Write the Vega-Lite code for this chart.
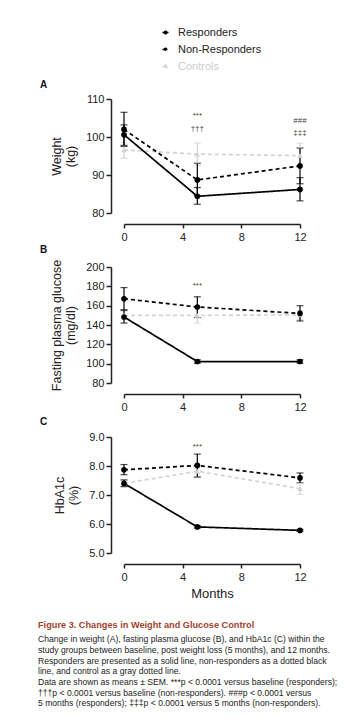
{
  "$schema": "https://vega.github.io/schema/vega-lite/v6.json",
  "padding": {"left": 38, "top": 27, "right": 5, "bottom": 5},
  "bounds": "flush",
  "spacing": 54,
  "config": {
    "font": "Liberation Sans",
    "view": {"stroke": null},
    "axis": {"domainColor": "#222", "tickColor": "#222", "labelColor": "#222", "titleColor": "#222", "grid": false, "domainWidth": 1.5, "tickWidth": 1.5, "labelFontSize": 11, "titleFontSize": 12.5, "titleFontWeight": "normal", "labelFont": "Liberation Sans", "titleFont": "Liberation Sans", "labelOverlap": false, "labelFlush": false},
    "legend": {"orient": "none", "legendX": 36, "legendY": -72, "title": null, "labelFontSize": 11, "labelColor": "#222", "rowPadding": 5, "symbolSize": 36, "symbolStrokeWidth": 1.5, "labelOffset": 7},
    "title": {"font": "Liberation Sans"}
  },
  "title": {
    "text": "Figure 3. Changes in Weight and Glucose Control",
    "subtitle": [
      "Change in weight (A), fasting plasma glucose (B), and HbA1c (C) within the",
      "study groups between baseline, post weight loss (5 months), and 12 months.",
      "Responders are presented as a solid line, non-responders as a dotted black",
      "line, and control as a gray dotted line.",
      "Data are shown as means ± SEM. ***p < 0.0001 versus baseline (responders);",
      "†††p < 0.0001 versus baseline (non-responders). ###p < 0.0001 versus",
      "5 months (responders); ‡‡‡p < 0.0001 versus 5 months (non-responders)."
    ],
    "orient": "bottom",
    "anchor": "start",
    "frame": "group",
    "dx": -86,
    "offset": 21,
    "fontSize": 9.2,
    "fontWeight": "bold",
    "color": "#a3432c",
    "subtitleFontSize": 8.6,
    "subtitleColor": "#222",
    "subtitlePadding": 5,
    "subtitleLineHeight": 10.7,
    "subtitleFont": "Liberation Sans"
  },
  "datasets": {
    "weight": [
      {"group": "Controls", "month": 0, "value": 96.6, "lo": 94.4, "hi": 98.5},
      {"group": "Controls", "month": 5, "value": 95.5, "lo": 92.5, "hi": 98.4},
      {"group": "Controls", "month": 12, "value": 95.1, "lo": 92.2, "hi": 98.4},
      {"group": "Non-Responders", "month": 0, "value": 102.0, "lo": 97.5, "hi": 106.5},
      {"group": "Non-Responders", "month": 5, "value": 88.7, "lo": 84.6, "hi": 93.1},
      {"group": "Non-Responders", "month": 12, "value": 92.4, "lo": 87.7, "hi": 97.1},
      {"group": "Responders", "month": 0, "value": 100.6, "lo": 97.8, "hi": 103.2},
      {"group": "Responders", "month": 5, "value": 84.4, "lo": 82.3, "hi": 86.7},
      {"group": "Responders", "month": 12, "value": 86.2, "lo": 83.2, "hi": 89.3}
    ],
    "glucose": [
      {"group": "Controls", "month": 0, "value": 150, "lo": 146, "hi": 154},
      {"group": "Controls", "month": 5, "value": 150, "lo": 142, "hi": 158},
      {"group": "Controls", "month": 12, "value": 150.5, "lo": 146, "hi": 155},
      {"group": "Non-Responders", "month": 0, "value": 167.2, "lo": 155.5, "hi": 178.7},
      {"group": "Non-Responders", "month": 5, "value": 158.6, "lo": 147.7, "hi": 169.2},
      {"group": "Non-Responders", "month": 12, "value": 152, "lo": 144.2, "hi": 160},
      {"group": "Responders", "month": 0, "value": 148.3, "lo": 142, "hi": 155.5},
      {"group": "Responders", "month": 5, "value": 102.2, "lo": 100.5, "hi": 104},
      {"group": "Responders", "month": 12, "value": 102.2, "lo": 100.5, "hi": 104}
    ],
    "hba1c": [
      {"group": "Controls", "month": 0, "value": 7.4, "lo": 7.28, "hi": 7.52},
      {"group": "Controls", "month": 5, "value": 7.82, "lo": 7.6, "hi": 8.02},
      {"group": "Controls", "month": 12, "value": 7.22, "lo": 7.02, "hi": 7.4},
      {"group": "Non-Responders", "month": 0, "value": 7.87, "lo": 7.7, "hi": 8.05},
      {"group": "Non-Responders", "month": 5, "value": 8.02, "lo": 7.62, "hi": 8.41},
      {"group": "Non-Responders", "month": 12, "value": 7.59, "lo": 7.42, "hi": 7.76},
      {"group": "Responders", "month": 0, "value": 7.4, "lo": 7.29, "hi": 7.52},
      {"group": "Responders", "month": 5, "value": 5.9, "lo": 5.86, "hi": 5.94},
      {"group": "Responders", "month": 12, "value": 5.78, "lo": 5.75, "hi": 5.81}
    ],
    "annA": [
      {"month": 5, "value": 105.4, "label": "***"},
      {"month": 5, "value": 102.0, "label": "†††"},
      {"month": 12, "value": 104.2, "label": "###"},
      {"month": 12, "value": 101.1, "label": "‡‡‡"}
    ],
    "annB": [
      {"month": 5, "value": 180, "label": "***"}
    ],
    "annC": [
      {"month": 5, "value": 8.66, "label": "***"}
    ]
  },
  "vconcat": [
    {
      "width": 176,
      "height": 114,
      "title": {"text": "A", "anchor": "start", "frame": "group", "dx": -84, "offset": 3, "fontSize": 10, "fontWeight": "bold", "color": "#111"},
      "layer": [
        {
          "data": {"name": "weight"},
          "mark": {"type": "errorbar", "ticks": {"size": 7}, "thickness": 1.2},
          "encoding": {
            "x": {"field": "month", "type": "quantitative", "scale": {"domain": [0, 12], "nice": false}, "axis": {"values": [0, 4, 8, 12], "offset": 11, "tickSize": 4, "title": null, "labelPadding": 3}},
            "y": {"field": "lo", "type": "quantitative", "scale": {"domain": [80, 110], "nice": false, "zero": false}, "axis": {"values": [80, 90, 100, 110], "offset": 13, "tickSize": 5, "title": ["Weight", "(kg)"], "titlePadding": 8}},
            "y2": {"field": "hi"},
            "color": {"field": "group", "type": "nominal", "scale": {"domain": ["Responders", "Non-Responders", "Controls"], "range": ["#000000", "#000000", "#d3d3d3"]}, "legend": {"symbolType": "M-1,0H1M-0.42,0A0.42,0.42,0,1,1,0.42,0A0.42,0.42,0,1,1,-0.42,0Z", "encode": {
              "labels": {"update": {"fill": {"signal": "datum.value === 'Controls' ? '#cccccc' : '#222222'"}}},
              "symbols": {"update": {
                "shape": {"signal": "datum.value === 'Controls' ? 'M-1,0H1M0,-0.5L0.45,0.3L-0.45,0.3Z' : 'M-1,0H1M-0.42,0A0.42,0.42,0,1,1,0.42,0A0.42,0.42,0,1,1,-0.42,0Z'"},
                "stroke": {"signal": "datum.value === 'Controls' ? '#d3d3d3' : '#000000'"},
                "fill": {"signal": "datum.value === 'Controls' ? '#d3d3d3' : '#000000'"},
                "strokeDash": {"signal": "datum.value === 'Responders' ? [1, 0] : [2.5, 2]"},
                "strokeWidth": {"value": 1.5},
                "opacity": {"value": 1}
              }}
            }}}
          }
        },
        {
          "data": {"name": "weight"},
          "mark": {"type": "line", "strokeWidth": 1.7},
          "encoding": {
            "x": {"field": "month", "type": "quantitative", "axis": {"values": [0, 4, 8, 12], "offset": 11, "tickSize": 4, "title": null, "labelPadding": 3}},
            "y": {"field": "value", "type": "quantitative", "axis": {"values": [80, 90, 100, 110], "offset": 13, "tickSize": 5, "title": ["Weight", "(kg)"], "titlePadding": 8}},
            "color": {"field": "group", "type": "nominal"},
            "strokeDash": {"field": "group", "type": "nominal", "scale": {"domain": ["Responders", "Non-Responders", "Controls"], "range": [[1, 0], [4, 3], [4, 3]]}, "legend": null}
          }
        },
        {
          "data": {"name": "weight"},
          "mark": {"type": "point", "filled": true, "size": 32, "opacity": 1},
          "encoding": {
            "x": {"field": "month", "type": "quantitative", "axis": {"values": [0, 4, 8, 12], "offset": 11, "tickSize": 4, "title": null, "labelPadding": 3}},
            "y": {"field": "value", "type": "quantitative", "axis": {"values": [80, 90, 100, 110], "offset": 13, "tickSize": 5, "title": ["Weight", "(kg)"], "titlePadding": 8}},
            "color": {"field": "group", "type": "nominal"},
            "shape": {"condition": {"test": "datum.group === 'Controls'", "value": "triangle-up"}, "value": "circle"}
          }
        },
        {
          "data": {"name": "annA"},
          "mark": {"type": "text", "fontSize": 8, "color": "#444"},
          "encoding": {
            "x": {"field": "month", "type": "quantitative", "axis": {"values": [0, 4, 8, 12], "offset": 11, "tickSize": 4, "title": null, "labelPadding": 3}},
            "y": {"field": "value", "type": "quantitative", "axis": {"values": [80, 90, 100, 110], "offset": 13, "tickSize": 5, "title": ["Weight", "(kg)"], "titlePadding": 8}},
            "text": {"field": "label"}
          }
        }
      ]
    },
    {
      "width": 176,
      "height": 116,
      "title": {"text": "B", "anchor": "start", "frame": "group", "dx": -84, "offset": 4, "fontSize": 10, "fontWeight": "bold", "color": "#111"},
      "layer": [
        {
          "data": {"name": "glucose"},
          "mark": {"type": "errorbar", "ticks": {"size": 7}, "thickness": 1.2},
          "encoding": {
            "x": {"field": "month", "type": "quantitative", "scale": {"domain": [0, 12], "nice": false}, "axis": {"values": [0, 4, 8, 12], "offset": 11, "tickSize": 4, "title": null, "labelPadding": 3}},
            "y": {"field": "lo", "type": "quantitative", "scale": {"domain": [80, 200], "nice": false, "zero": false}, "axis": {"values": [80, 100, 120, 140, 160, 180, 200], "offset": 13, "tickSize": 5, "title": ["Fasting plasma glucose", "(mg/dl)"], "titlePadding": 8}},
            "y2": {"field": "hi"},
            "color": {"field": "group", "type": "nominal"}
          }
        },
        {
          "data": {"name": "glucose"},
          "mark": {"type": "line", "strokeWidth": 1.7},
          "encoding": {
            "x": {"field": "month", "type": "quantitative", "axis": {"values": [0, 4, 8, 12], "offset": 11, "tickSize": 4, "title": null, "labelPadding": 3}},
            "y": {"field": "value", "type": "quantitative", "axis": {"values": [80, 100, 120, 140, 160, 180, 200], "offset": 13, "tickSize": 5, "title": ["Fasting plasma glucose", "(mg/dl)"], "titlePadding": 8}},
            "color": {"field": "group", "type": "nominal"},
            "strokeDash": {"field": "group", "type": "nominal", "legend": null}
          }
        },
        {
          "data": {"name": "glucose"},
          "mark": {"type": "point", "filled": true, "size": 32, "opacity": 1},
          "encoding": {
            "x": {"field": "month", "type": "quantitative", "axis": {"values": [0, 4, 8, 12], "offset": 11, "tickSize": 4, "title": null, "labelPadding": 3}},
            "y": {"field": "value", "type": "quantitative", "axis": {"values": [80, 100, 120, 140, 160, 180, 200], "offset": 13, "tickSize": 5, "title": ["Fasting plasma glucose", "(mg/dl)"], "titlePadding": 8}},
            "color": {"field": "group", "type": "nominal"},
            "shape": {"condition": {"test": "datum.group === 'Controls'", "value": "triangle-up"}, "value": "circle"}
          }
        },
        {
          "data": {"name": "annB"},
          "mark": {"type": "text", "fontSize": 8, "color": "#444"},
          "encoding": {
            "x": {"field": "month", "type": "quantitative", "axis": {"values": [0, 4, 8, 12], "offset": 11, "tickSize": 4, "title": null, "labelPadding": 3}},
            "y": {"field": "value", "type": "quantitative", "axis": {"values": [80, 100, 120, 140, 160, 180, 200], "offset": 13, "tickSize": 5, "title": ["Fasting plasma glucose", "(mg/dl)"], "titlePadding": 8}},
            "text": {"field": "label"}
          }
        }
      ]
    },
    {
      "width": 176,
      "height": 116,
      "title": {"text": "C", "anchor": "start", "frame": "group", "dx": -84, "offset": 4, "fontSize": 10, "fontWeight": "bold", "color": "#111"},
      "layer": [
        {
          "data": {"name": "hba1c"},
          "mark": {"type": "errorbar", "ticks": {"size": 7}, "thickness": 1.2},
          "encoding": {
            "x": {"field": "month", "type": "quantitative", "scale": {"domain": [0, 12], "nice": false}, "axis": {"values": [0, 4, 8, 12], "offset": 11, "tickSize": 4, "title": "Months", "titleFontSize": 13, "labelPadding": 3, "titlePadding": 5}},
            "y": {"field": "lo", "type": "quantitative", "scale": {"domain": [5, 9], "nice": false, "zero": false}, "axis": {"values": [5, 6, 7, 8, 9], "format": ".1f", "offset": 13, "tickSize": 5, "title": ["HbA1c", "(%)"], "titlePadding": 8}},
            "y2": {"field": "hi"},
            "color": {"field": "group", "type": "nominal"}
          }
        },
        {
          "data": {"name": "hba1c"},
          "mark": {"type": "line", "strokeWidth": 1.7},
          "encoding": {
            "x": {"field": "month", "type": "quantitative", "axis": {"values": [0, 4, 8, 12], "offset": 11, "tickSize": 4, "title": "Months", "titleFontSize": 13, "labelPadding": 3, "titlePadding": 5}},
            "y": {"field": "value", "type": "quantitative", "axis": {"values": [5, 6, 7, 8, 9], "format": ".1f", "offset": 13, "tickSize": 5, "title": ["HbA1c", "(%)"], "titlePadding": 8}},
            "color": {"field": "group", "type": "nominal"},
            "strokeDash": {"field": "group", "type": "nominal", "legend": null}
          }
        },
        {
          "data": {"name": "hba1c"},
          "mark": {"type": "point", "filled": true, "size": 32, "opacity": 1},
          "encoding": {
            "x": {"field": "month", "type": "quantitative", "axis": {"values": [0, 4, 8, 12], "offset": 11, "tickSize": 4, "title": "Months", "titleFontSize": 13, "labelPadding": 3, "titlePadding": 5}},
            "y": {"field": "value", "type": "quantitative", "axis": {"values": [5, 6, 7, 8, 9], "format": ".1f", "offset": 13, "tickSize": 5, "title": ["HbA1c", "(%)"], "titlePadding": 8}},
            "color": {"field": "group", "type": "nominal"},
            "shape": {"condition": {"test": "datum.group === 'Controls'", "value": "triangle-up"}, "value": "circle"}
          }
        },
        {
          "data": {"name": "annC"},
          "mark": {"type": "text", "fontSize": 8, "color": "#444"},
          "encoding": {
            "x": {"field": "month", "type": "quantitative", "axis": {"values": [0, 4, 8, 12], "offset": 11, "tickSize": 4, "title": "Months", "titleFontSize": 13, "labelPadding": 3, "titlePadding": 5}},
            "y": {"field": "value", "type": "quantitative", "axis": {"values": [5, 6, 7, 8, 9], "format": ".1f", "offset": 13, "tickSize": 5, "title": ["HbA1c", "(%)"], "titlePadding": 8}},
            "text": {"field": "label"}
          }
        }
      ]
    }
  ]
}
